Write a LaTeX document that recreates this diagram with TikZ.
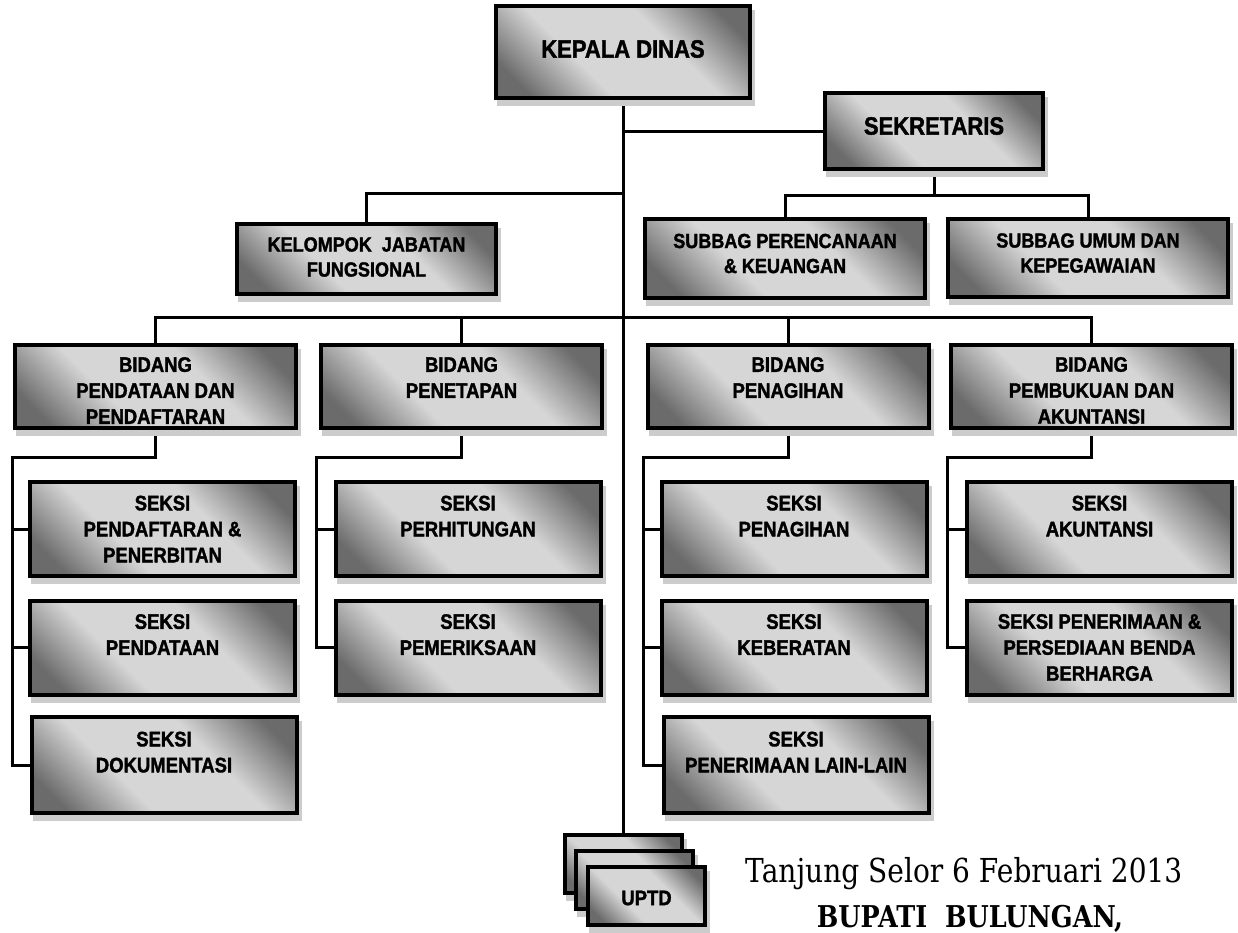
\documentclass[tikz,border=0pt]{standalone}
\usepackage{fontspec}
\setmainfont{Liberation Sans}
\newfontfamily\boxfont[FakeStretch=0.88, BoldFeatures={FakeBold=1.6}]{Liberation Sans}
\newfontfamily\signfont[FakeStretch=0.85]{DejaVu Serif}
\usetikzlibrary{shadows,backgrounds}

\definecolor{boxdark}{gray}{0.42}
\definecolor{boxlight}{gray}{0.84}
\definecolor{shadowgray}{gray}{0.80}

% diagonal band: dark corners, light middle
\pgfdeclareverticalshading{diagband}{100bp}{%
  color(0bp)=(boxdark); color(22bp)=(boxdark); color(39bp)=(boxlight);
  color(61bp)=(boxlight); color(78bp)=(boxdark); color(100bp)=(boxdark)}

\tikzset{
  orgbox/.style={draw=black, line width=4pt, inner sep=0pt, outer sep=0pt,
    shading=diagband, shading angle=-45,
    general shadow={fill=shadowgray, draw=shadowgray, line width=4pt,
      shadow xshift=3pt, shadow yshift=-6pt}},
  bigtext/.style={font=\boxfont\bfseries\fontsize{25}{30}\selectfont, align=center, inner sep=0pt},
  midtext/.style={font=\boxfont\bfseries\fontsize{20.5}{25}\selectfont, align=center, inner sep=0pt},
  stdtext/.style={font=\boxfont\bfseries\fontsize{21}{26}\selectfont, align=center, inner sep=0pt},
  smalltext/.style={font=\boxfont\bfseries\fontsize{21}{25}\selectfont, align=center, inner sep=0pt},
  link/.style={draw=black, line width=3pt, line join=miter},
  datetext/.style={font=\signfont\fontsize{33}{40}\selectfont, inner sep=0pt},
  signtext/.style={font=\signfont\bfseries\fontsize{30}{36}\selectfont, inner sep=0pt},
}

% #1 name, #2 cx, #3 cy, #4 width, #5 height, #6 label style, #7 label
\newcommand\orgunit[7]{%
  \node[orgbox, minimum width=#4pt, minimum height=#5pt] (#1) at (#2,#3) {};
  \node[#6] (#1-label) at (#1.center) {#7};}
\newcommand\blankline{\vphantom{E}}

\begin{document}
\begin{tikzpicture}[x=1pt,y=-1pt]
\useasboundingbox (0,0) rectangle (1238,932);

% top level
\orgunit{kepala}{623}{52}{254}{92}{bigtext, yshift=3pt}{KEPALA DINAS}
\orgunit{sekretaris}{934}{131}{218}{76}{bigtext, yshift=5pt}{SEKRETARIS}
\orgunit{kelompok}{366.5}{259}{259}{70}{midtext, yshift=2pt}{KELOMPOK\ \ JABATAN\\FUNGSIONAL}
\orgunit{subbagA}{785}{258.5}{280}{79}{midtext, yshift=5pt}{SUBBAG PERENCANAAN\\\& KEUANGAN}
\orgunit{subbagB}{1088}{258}{280}{78}{midtext, yshift=5pt}{SUBBAG UMUM DAN\\KEPEGAWAIAN}

% bidang
\orgunit{bidA}{155.5}{386.5}{281}{83}{stdtext, yshift=-4pt}{BIDANG\\PENDATAAN DAN\\PENDAFTARAN}
\orgunit{bidB}{461.5}{386.5}{281}{83}{stdtext, yshift=-4pt}{BIDANG\\PENETAPAN\\\blankline}
\orgunit{bidC}{788}{386.5}{281}{83}{stdtext, yshift=-4pt}{BIDANG\\PENAGIHAN\\\blankline}
\orgunit{bidD}{1091.5}{386.5}{281}{83}{stdtext, yshift=-4pt}{BIDANG\\PEMBUKUAN DAN\\AKUNTANSI}

% seksi
\orgunit{sA1}{162.5}{529}{265}{94}{stdtext}{SEKSI\\PENDAFTARAN \&\\PENERBITAN}
\orgunit{sA2}{162.5}{647.5}{265}{94}{stdtext}{SEKSI\\PENDATAAN\\\blankline}
\orgunit{sA3}{164}{765}{265}{96}{stdtext}{SEKSI\\DOKUMENTASI\\\blankline}
\orgunit{sB1}{468}{529}{265}{94}{stdtext}{SEKSI\\PERHITUNGAN\\\blankline}
\orgunit{sB2}{468}{647.5}{265}{94}{stdtext}{SEKSI\\PEMERIKSAAN\\\blankline}
\orgunit{sC1}{794}{529}{265}{94}{stdtext}{SEKSI\\PENAGIHAN\\\blankline}
\orgunit{sC2}{794}{647.5}{265}{94}{stdtext}{SEKSI\\KEBERATAN\\\blankline}
\orgunit{sC3}{796}{765}{265}{96}{stdtext}{SEKSI\\PENERIMAAN LAIN-LAIN\\\blankline}
\orgunit{sD1}{1099.5}{529}{265}{94}{stdtext}{SEKSI\\AKUNTANSI\\\blankline}
\orgunit{sD2}{1099.5}{647.5}{265}{94}{stdtext}{SEKSI PENERIMAAN \&\\PERSEDIAAN BENDA\\BERHARGA}

% UPTD stack
\node[orgbox, minimum width=117pt, minimum height=58pt] (uptdA) at (623,864) {};
\node[orgbox, minimum width=117pt, minimum height=58pt] (uptdB) at (634.5,880) {};
\orgunit{uptdC}{646.5}{896}{117}{58}{smalltext, yshift=-2pt}{UPTD}

% junction points
\coordinate (kelj) at (623,193);
\coordinate (sekj) at (934,195);
\coordinate (busj) at (623,317);
\coordinate (jA) at (12,457);
\coordinate (jB) at (316,457);
\coordinate (jC) at (643,457);
\coordinate (jD) at (947,457);

\begin{scope}[on background layer]
  \draw[link] (kepala.south) -- (uptdA.north);
  \draw[link] (kepala.south |- sekretaris.west) -- (sekretaris.west);
  \draw[link] (kelompok.north) |- (kelj);
  \draw[link] (sekretaris.south) -- (sekj);
  \draw[link] (subbagA.north) |- (sekj);
  \draw[link] (subbagB.north) |- (sekj);
  \draw[link] (bidA.north) |- (busj);
  \draw[link] (bidB.north) |- (busj);
  \draw[link] (bidC.north) |- (busj);
  \draw[link] (bidD.north) |- (busj);
  % bidang to seksi
  \draw[link] (bidA.south) |- (jA) |- (sA3.west);
  \draw[link] (jA |- sA1.west) -- (sA1.west);
  \draw[link] (jA |- sA2.west) -- (sA2.west);
  \draw[link] (bidB.south) |- (jB) |- (sB2.west);
  \draw[link] (jB |- sB1.west) -- (sB1.west);
  \draw[link] (bidC.south) |- (jC) |- (sC3.west);
  \draw[link] (jC |- sC1.west) -- (sC1.west);
  \draw[link] (jC |- sC2.west) -- (sC2.west);
  \draw[link] (bidD.south) |- (jD) |- (sD2.west);
  \draw[link] (jD |- sD1.west) -- (sD1.west);
\end{scope}

% signature block
\node[datetext, anchor=base west] (tanggal) at (745,882) {Tanjung Selor 6 Februari 2013};
\node[signtext, anchor=base] (bupati) at (970,927) {BUPATI\ \ BULUNGAN,};
\end{tikzpicture}
\end{document}
